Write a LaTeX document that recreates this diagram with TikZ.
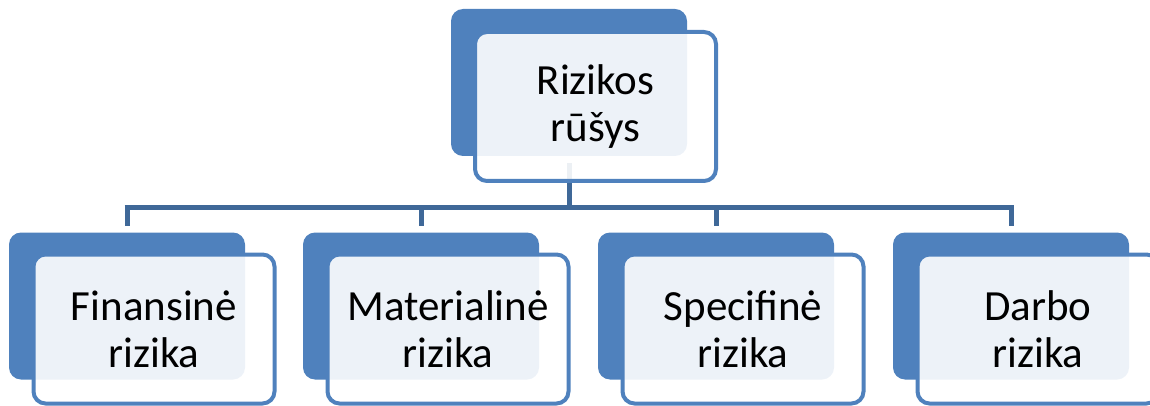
\documentclass[tikz,border=0pt]{standalone}
\usepackage{fontspec}
\setmainfont{Carlito}
\usepackage{tikz}
\usetikzlibrary{
    positioning,
    calc
}

\definecolor{riskBlue}{RGB}{79,129,189}
\definecolor{lineBlue}{RGB}{63,104,152}

\tikzset{
    backbox/.style={rounded corners=12pt, fill=riskBlue, inner sep=0pt,
        minimum width=236pt, minimum height=147pt},
    frontbox/.style={rounded corners=12pt, draw=riskBlue, line width=4pt,
        fill=white, fill opacity=0.9, text opacity=1, text=black,
        minimum width=241pt, minimum height=149pt, inner sep=0pt, align=center,
        font=\fontsize{43}{47}\selectfont},
    conn/.style={draw=lineBlue, line width=5pt}
}

\begin{document}
\begin{tikzpicture}[x=1pt, y=-1pt]

\useasboundingbox (0,0) rectangle (1150,406);

% Back boxes
\node[backbox] (btop) at (569,82.5) {};
\foreach \n/\x in {b1/127, b2/421, b3/716, b4/1011} {
    \node[backbox] (\n) at (\x,306) {};
}

% Connectors
\draw[conn, shorten <=7pt] (btop.south) -- ++(0,51) coordinate (hub);
\draw[conn] ($(b1.north |- hub)+(-2.5,0)$) -- ($(b4.north |- hub)+(2.5,0)$);
\foreach \n in {b1, b2, b3, b4} {
    \draw[conn, shorten >=6pt] (\n.north |- hub) -- (\n.north);
}

% Front boxes
\node[frontbox] (ftop) at ($(btop)+(26.5,24)$) {Rizikos\\rūšys};
\node[frontbox] (f1) at ($(b1)+(27,23)$) {Finansinė\\rizika};
\node[frontbox] (f2) at ($(b2)+(27,23)$) {Materialinė\\rizika};
\node[frontbox] (f3) at ($(b3)+(27,23)$) {Specifinė\\rizika};
\node[frontbox] (f4) at ($(b4)+(27,23)$) {Darbo\\rizika};

\end{tikzpicture}
\end{document}
